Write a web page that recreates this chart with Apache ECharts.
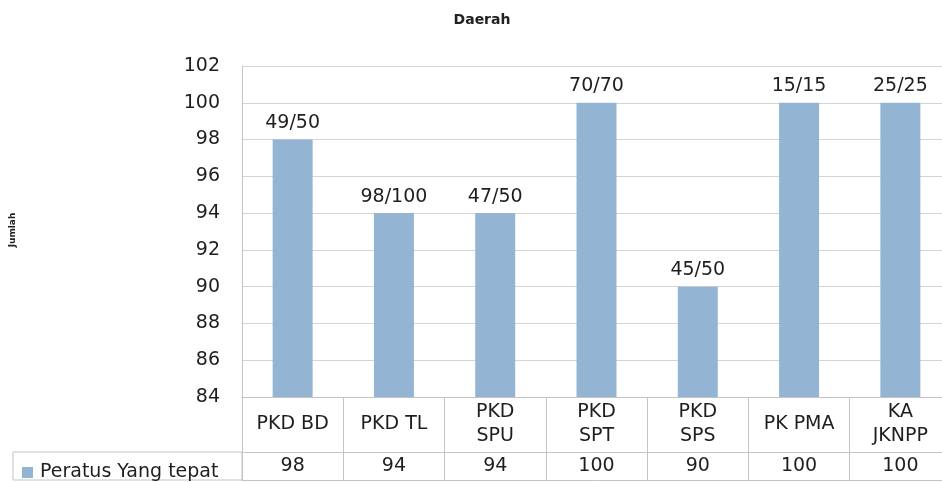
<!DOCTYPE html>
<html>
<head>
<meta charset="utf-8">
<script src="https://cdn.jsdelivr.net/npm/echarts@6/dist/echarts.min.js"></script>
<style>html,body{margin:0;padding:0;background:#fff}#c{width:942px;height:482px}</style>
</head>
<body>
<div id="c"></div>
<script>
const categories = ['PKD BD', 'PKD TL', 'PKD\nSPU', 'PKD\nSPT', 'PKD\nSPS', 'PK PMA', 'KA\nJKNPP'];
const values = [98, 94, 94, 100, 90, 100, 100];
const barLabels = ['49/50', '98/100', '47/50', '70/70', '45/50', '15/15', '25/25'];
const seriesName = 'Peratus Yang tepat';
const yTicks = { min: 84, max: 102, interval: 2 };

const FONT = 'DejaVu Sans';
const TXT = '#1e1e1e';
const LINE = '#c4c4c4';

const chart = echarts.init(document.getElementById('c'), null, { renderer: 'canvas' });
chart.setOption({
  animation: false,
  backgroundColor: '#fff',
  title: {
    text: 'Daerah', left: 477, top: 8, textAlign: 'center',
    textStyle: { fontFamily: FONT, fontSize: 14, fontWeight: 'bold', color: '#222' }
  },
  legend: {
    show: true, left: 17, top: 458, itemWidth: 11, itemHeight: 11, icon: 'rect',
    data: [seriesName],
    textStyle: { fontFamily: FONT, fontSize: 19, color: TXT, padding: [0, 0, 0, 2] }
  },
  graphic: [{
    type: 'rect', shape: { x: 13, y: 452, width: 229, height: 28 },
    style: { fill: 'none', stroke: LINE, lineWidth: 1 }, silent: true
  }, {
    type: 'text', rotation: Math.PI / 2, x: 13, y: 230,
    style: { text: 'Jumlah', fontFamily: FONT, fontSize: 9, fontWeight: 'bold', fill: '#222', align: 'center', verticalAlign: 'middle' }
  }],
  grid: { left: 242, top: 66, width: 709, height: 331, containLabel: false, outerBoundsMode: 'none' },
  xAxis: [{
    type: 'category', data: categories, position: 'bottom',
    axisLine: { show: true, lineStyle: { color: LINE, width: 1 } },
    axisTick: { show: true, length: 83, interval: 0, lineStyle: { color: LINE, width: 1 } },
    axisLabel: {
      interval: 0, margin: 27, verticalAlign: 'middle', fontFamily: FONT, fontSize: 19,
      lineHeight: 24, color: TXT
    },
    splitLine: { show: false }
  }, {
    type: 'category', data: categories, position: 'bottom', offset: 55,
    axisLine: { show: true, lineStyle: { color: LINE, width: 1 } },
    axisTick: { show: false },
    axisLabel: {
      interval: 0, margin: 14, verticalAlign: 'middle', fontFamily: FONT, fontSize: 19, color: TXT,
      formatter: function (v, i) { return String(values[i]); }
    }
  }, {
    type: 'category', data: categories, position: 'bottom', offset: 83,
    axisLine: { show: true, lineStyle: { color: LINE, width: 1 } },
    axisTick: { show: false }, axisLabel: { show: false }
  }],
  yAxis: {
    type: 'value', min: yTicks.min, max: yTicks.max, interval: yTicks.interval,
    axisLine: { show: true, lineStyle: { color: LINE, width: 1 } },
    axisTick: { show: false },
    axisLabel: { margin: 22, fontFamily: FONT, fontSize: 19, color: TXT },
    splitLine: { show: true, lineStyle: { color: '#d4d4d4', width: 1 } }
  },
  series: [{
    name: seriesName, type: 'bar', xAxisIndex: 0, data: values, barWidth: 40,
    itemStyle: { color: '#94b4d4' },
    label: {
      show: true, position: 'top', distance: 7, fontFamily: FONT, fontSize: 19, color: TXT,
      formatter: function (p) { return barLabels[p.dataIndex]; }
    }
  }]
});
</script>
</body>
</html>
